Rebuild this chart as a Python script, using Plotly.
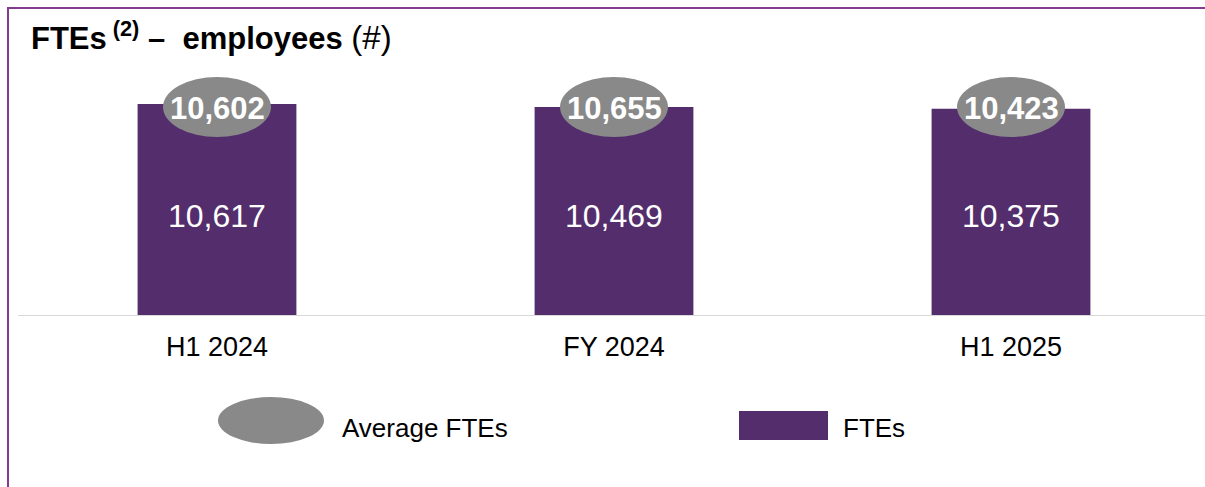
import plotly.graph_objects as go

# ---- data ----
categories = ["H1 2024", "FY 2024", "H1 2025"]
fte_values = [10617, 10469, 10375]
avg_fte_values = [10602, 10655, 10423]
title_text = ("<b>FTEs<sup> (2)</sup> –  employees</b> "
              "<span style='font-size:33px'>(#)</span>")
legend_labels = ["Average FTEs", "FTEs"]

# ---- styling ----
W, H = 1205, 487
ML, MR, MT, MB = 18, 0, 60, 172
PW, PH = W - ML - MR, H - MT - MB
BAR_COLOR = "#532D6C"
ELLIPSE_COLOR = "#898989"
FRAME_COLOR = "#843B91"
FONT = "Arial, Liberation Sans, sans-serif"


def px_x(px):
    """page pixel -> paper x"""
    return (px - ML) / PW


def px_y(py):
    """page pixel -> paper y"""
    return (H - MB - py) / PH


fig = go.Figure()
fig.add_trace(go.Bar(
    x=categories, y=fte_values, width=0.4,
    marker=dict(color=BAR_COLOR, line=dict(width=0)),
    hoverinfo="x+y", showlegend=False,
))

shapes = []
annotations = []

# bar value labels (white, inside bars)
for c, v in zip(categories, fte_values):
    annotations.append(dict(
        x=c, xref="x", y=px_y(216), yref="paper", text=f"{v:,}",
        showarrow=False, font=dict(family=FONT, size=32, color="white"),
        xanchor="center", yanchor="middle",
    ))

# average FTE ellipses with labels
for i, (c, v) in enumerate(zip(categories, avg_fte_values)):
    shapes.append(dict(
        type="circle", xref="x", xsizemode="pixel", xanchor=i, x0=-54, x1=54,
        yref="paper", ysizemode="pixel", yanchor=px_y(107), y0=-30, y1=30,
        fillcolor=ELLIPSE_COLOR, line=dict(width=0), layer="above",
    ))
    annotations.append(dict(
        x=c, xref="x", y=px_y(108), yref="paper", text=f"<b>{v:,}</b>",
        showarrow=False, font=dict(family=FONT, size=31, color="white"),
        xanchor="center", yanchor="middle",
    ))

# frame lines
shapes.append(dict(type="line", xref="paper", yref="paper",
                   x0=px_x(8), x1=px_x(1210), y0=px_y(8), y1=px_y(8),
                   line=dict(color=FRAME_COLOR, width=2)))
shapes.append(dict(type="line", xref="paper", yref="paper",
                   x0=px_x(8), x1=px_x(8), y0=px_y(7), y1=px_y(490),
                   line=dict(color=FRAME_COLOR, width=2)))

# custom legend
shapes.append(dict(type="circle", xref="paper", yref="paper",
                   x0=px_x(218), x1=px_x(324), y0=px_y(397), y1=px_y(444),
                   fillcolor=ELLIPSE_COLOR, line=dict(width=0)))
shapes.append(dict(type="rect", xref="paper", yref="paper",
                   x0=px_x(739), x1=px_x(828), y0=px_y(411), y1=px_y(440),
                   fillcolor=BAR_COLOR, line=dict(width=0)))
annotations.append(dict(x=px_x(340), y=px_y(428), xref="paper", yref="paper",
                        text=legend_labels[0], showarrow=False,
                        xanchor="left", yanchor="middle",
                        font=dict(family=FONT, size=26, color="black")))
annotations.append(dict(x=px_x(841), y=px_y(428), xref="paper", yref="paper",
                        text=legend_labels[1], showarrow=False,
                        xanchor="left", yanchor="middle",
                        font=dict(family=FONT, size=26, color="black")))

# title
annotations.append(dict(x=px_x(29), y=px_y(36), xref="paper", yref="paper",
                        text=title_text, showarrow=False,
                        xanchor="left", yanchor="middle",
                        font=dict(family=FONT, size=31, color="black")))

fig.update_layout(
    width=W, height=H,
    margin=dict(l=ML, r=MR, t=MT, b=MB, pad=0),
    paper_bgcolor="white", plot_bgcolor="white",
    shapes=shapes, annotations=annotations,
    showlegend=False,
    xaxis=dict(
        type="category", range=[-(217 - ML) / 397, 2 + (W - 1011) / 397],
        showline=True, linecolor="#D9D9D9", linewidth=1,
        showgrid=False, zeroline=False, ticks="", ticklabelstandoff=8,
        tickfont=dict(family=FONT, size=27, color="black"),
        fixedrange=True,
    ),
    yaxis=dict(
        range=[0, 12830], visible=False, showgrid=False, zeroline=False,
        fixedrange=True,
    ),
)

fig.write_html(
    "out.html",
    config={"displayModeBar": False},
    post_script="document.body.style.margin='0';"
                "document.body.style.overflow='hidden';",
)
